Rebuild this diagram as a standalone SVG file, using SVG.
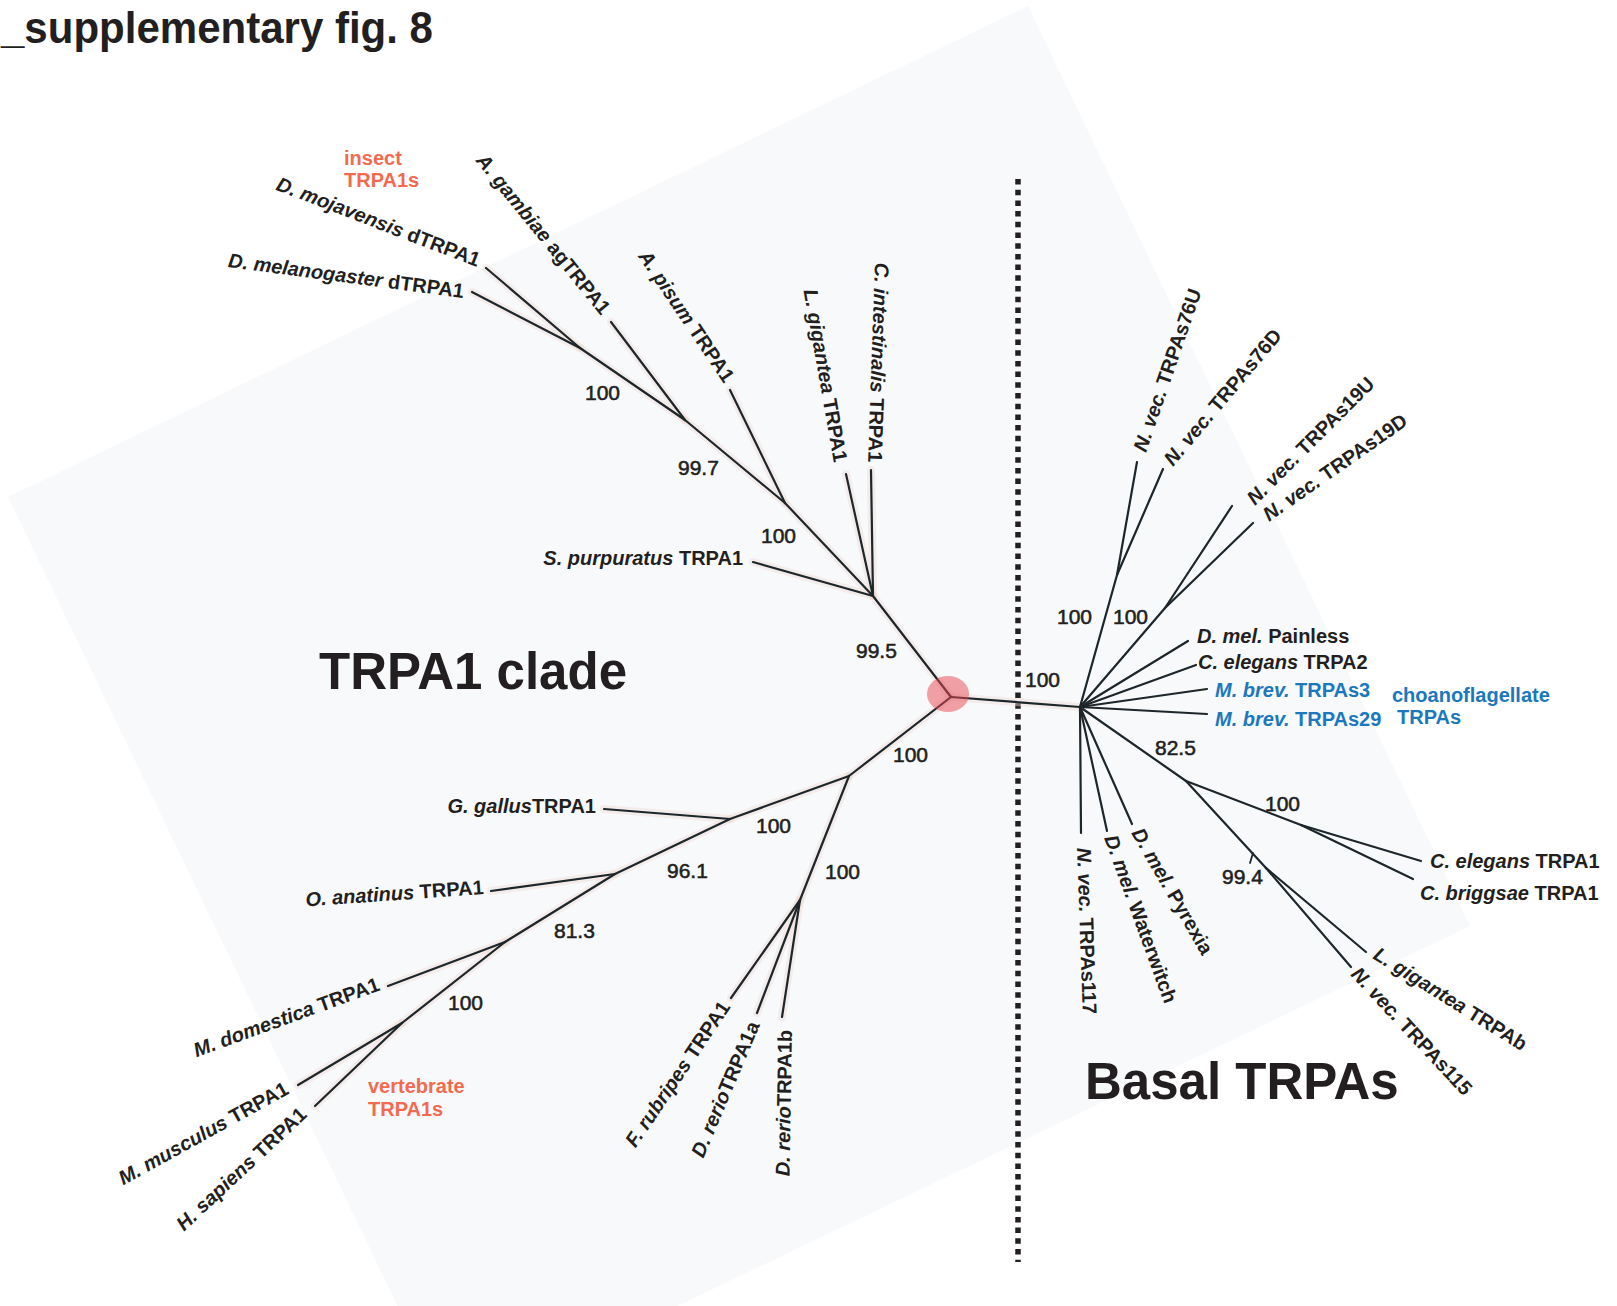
<svg xmlns="http://www.w3.org/2000/svg" width="1617" height="1306" viewBox="0 0 1617 1306">
<defs>
<style>
text{font-family:"Liberation Sans",Arial,Helvetica,sans-serif;fill:#231f20}
.lb{font-size:20px;font-weight:bold}
.num{font-size:21px;font-weight:normal;stroke:#231f20;stroke-width:0.55}
.it{font-style:italic}
.blue{fill:#1b78bd}
.sal{fill:#f26b50;font-size:20px;font-weight:bold}
.big{font-size:51px;font-weight:bold}
.e{text-anchor:end}
.br line{stroke:#1c262b;stroke-width:2.2;stroke-linecap:round}
.halo line{stroke:#f1ddd6;stroke-width:8;stroke-linecap:round;opacity:0.45}
</style>
</defs>
<rect x="0" y="0" width="1617" height="1306" fill="#ffffff"/>
<polygon points="8,497 1028,6 1470,926 450,1415" fill="#f8f9fb"/>
<text x="1" y="43" font-size="45" font-weight="bold" textLength="432" lengthAdjust="spacingAndGlyphs">_supplementary fig. 8</text>
<line x1="1018" y1="179" x2="1018" y2="1262" stroke="#231f20" stroke-width="5.5" stroke-dasharray="5.5 5.2"/>

<g id="connectors">
<g class="halo">
<line x1="951" y1="697" x2="873" y2="596"/><line x1="951" y1="697" x2="849" y2="776"/><line x1="951" y1="697" x2="1080" y2="707"/>
<line x1="873" y1="596" x2="753" y2="562"/><line x1="873" y1="596" x2="846" y2="474"/><line x1="873" y1="596" x2="871" y2="470"/><line x1="873" y1="596" x2="785" y2="503"/>
<line x1="785" y1="503" x2="730" y2="390"/><line x1="785" y1="503" x2="685" y2="420"/><line x1="685" y1="420" x2="611" y2="322"/><line x1="685" y1="420" x2="580" y2="348"/>
<line x1="580" y1="348" x2="486" y2="268"/><line x1="580" y1="348" x2="472" y2="292"/>
<line x1="849" y1="776" x2="800" y2="900"/><line x1="849" y1="776" x2="730" y2="819"/>
<line x1="800" y1="900" x2="731" y2="998"/><line x1="800" y1="900" x2="757" y2="1013"/><line x1="800" y1="900" x2="782" y2="1017"/>
<line x1="730" y1="819" x2="604" y2="809"/><line x1="730" y1="819" x2="615" y2="874"/><line x1="615" y1="874" x2="491" y2="891"/><line x1="615" y1="874" x2="505" y2="942"/>
<line x1="505" y1="942" x2="388" y2="986"/><line x1="505" y1="942" x2="402" y2="1023"/><line x1="402" y1="1023" x2="298" y2="1085"/><line x1="402" y1="1023" x2="315" y2="1106"/>
</g>
<g class="br">
<line x1="951" y1="697" x2="873" y2="596"/><line x1="951" y1="697" x2="849" y2="776"/><line x1="951" y1="697" x2="1080" y2="707"/>
<line x1="873" y1="596" x2="753" y2="562"/><line x1="873" y1="596" x2="846" y2="474"/><line x1="873" y1="596" x2="871" y2="470"/><line x1="873" y1="596" x2="785" y2="503"/>
<line x1="785" y1="503" x2="730" y2="390"/><line x1="785" y1="503" x2="685" y2="420"/><line x1="685" y1="420" x2="611" y2="322"/><line x1="685" y1="420" x2="580" y2="348"/>
<line x1="580" y1="348" x2="486" y2="268"/><line x1="580" y1="348" x2="472" y2="292"/>
<line x1="849" y1="776" x2="800" y2="900"/><line x1="849" y1="776" x2="730" y2="819"/>
<line x1="800" y1="900" x2="731" y2="998"/><line x1="800" y1="900" x2="757" y2="1013"/><line x1="800" y1="900" x2="782" y2="1017"/>
<line x1="730" y1="819" x2="604" y2="809"/><line x1="730" y1="819" x2="615" y2="874"/><line x1="615" y1="874" x2="491" y2="891"/><line x1="615" y1="874" x2="505" y2="942"/>
<line x1="505" y1="942" x2="388" y2="986"/><line x1="505" y1="942" x2="402" y2="1023"/><line x1="402" y1="1023" x2="298" y2="1085"/><line x1="402" y1="1023" x2="315" y2="1106"/>
<line x1="1080" y1="707" x2="1117" y2="575"/><line x1="1117" y1="575" x2="1137" y2="462"/><line x1="1117" y1="575" x2="1163" y2="469"/>
<line x1="1080" y1="707" x2="1165" y2="608"/><line x1="1165" y1="608" x2="1232" y2="506"/><line x1="1165" y1="608" x2="1253" y2="523"/>
<line x1="1080" y1="707" x2="1188" y2="641"/><line x1="1080" y1="707" x2="1196" y2="665"/><line x1="1080" y1="707" x2="1207" y2="689"/><line x1="1080" y1="707" x2="1207" y2="714"/>
<line x1="1080" y1="707" x2="1081" y2="833"/><line x1="1080" y1="707" x2="1107" y2="831"/><line x1="1080" y1="707" x2="1132" y2="824"/>
<line x1="1080" y1="707" x2="1186" y2="781"/><line x1="1186" y1="781" x2="1301" y2="825"/><line x1="1301" y1="825" x2="1421" y2="861"/><line x1="1301" y1="825" x2="1413" y2="879"/>
<line x1="1186" y1="781" x2="1266" y2="868"/><line x1="1266" y1="868" x2="1366" y2="952"/><line x1="1266" y1="868" x2="1351" y2="967"/>
<line x1="1253" y1="853" x2="1250" y2="863" style="stroke-width:1.8"/>
</g>
</g>

<g id="root"><ellipse cx="948" cy="694" rx="21" ry="18" fill="#e84650" opacity="0.5"/></g>

<g id="group-labels">
<text class="sal" x="344" y="165">insect</text>
<text class="sal" x="344" y="187">TRPA1s</text>
<text class="sal" x="368" y="1093">vertebrate</text>
<text class="sal" x="368" y="1116">TRPA1s</text>
<text class="lb blue" x="1392" y="702">choanoflagellate</text>
<text class="lb blue" x="1397" y="724">TRPAs</text>
<text class="big" x="319" y="689">TRPA1 clade</text>
<text class="big" x="1085" y="1099">Basal TRPAs</text>
</g>

<g id="bootstrap">
<text class="num" x="585" y="400">100</text>
<text class="num" x="678" y="475">99.7</text>
<text class="num" x="761" y="543">100</text>
<text class="num" x="856" y="658">99.5</text>
<text class="num" x="1025" y="687">100</text>
<text class="num" x="893" y="762">100</text>
<text class="num" x="756" y="833">100</text>
<text class="num" x="667" y="878">96.1</text>
<text class="num" x="825" y="879">100</text>
<text class="num" x="554" y="938">81.3</text>
<text class="num" x="448" y="1010">100</text>
<text class="num" x="1057" y="624">100</text>
<text class="num" x="1113" y="624">100</text>
<text class="num" x="1155" y="755">82.5</text>
<text class="num" x="1265" y="811">100</text>
<text class="num" x="1222" y="884">99.4</text>
</g>

<g id="leaf-Dmoj"><text class="lb e" transform="translate(477,267) rotate(21)"><tspan class="it">D. mojavensis</tspan> dTRPA1</text></g>
<g id="leaf-Dmel"><text class="lb e" transform="translate(463,298) rotate(7.5)"><tspan class="it">D. melanogaster</tspan> dTRPA1</text></g>
<g id="leaf-Agam"><text class="lb e" transform="translate(601,316) rotate(51)"><tspan class="it">A. gambiae</tspan> agTRPA1</text></g>
<g id="leaf-Apis"><text class="lb e" transform="translate(724,384) rotate(56)"><tspan class="it">A. pisum</tspan> TRPA1</text></g>
<g id="leaf-Lgig"><text class="lb e" transform="translate(834,463) rotate(80)"><tspan class="it">L. gigantea</tspan> TRPA1</text></g>
<g id="leaf-Cint"><text class="lb e" transform="translate(868,462) rotate(92)"><tspan class="it">C. intestinalis</tspan> TRPA1</text></g>
<g id="leaf-Spur"><text class="lb e" x="743" y="565"><tspan class="it">S. purpuratus</tspan> TRPA1</text></g>
<g id="leaf-Ggal"><text class="lb e" x="596" y="813"><tspan class="it">G. gallus</tspan>TRPA1</text></g>
<g id="leaf-Oana"><text class="lb e" transform="translate(484,894) rotate(-4)"><tspan class="it">O. anatinus</tspan> TRPA1</text></g>
<g id="leaf-Mdom"><text class="lb e" transform="translate(381,990) rotate(-20)"><tspan class="it">M. domestica</tspan> TRPA1</text></g>
<g id="leaf-Mmus"><text class="lb e" transform="translate(290,1093) rotate(-29)"><tspan class="it">M. musculus</tspan> TRPA1</text></g>
<g id="leaf-Hsap"><text class="lb e" transform="translate(308,1116) rotate(-43)"><tspan class="it">H. sapiens</tspan> TRPA1</text></g>
<g id="leaf-Frub"><text class="lb e" transform="translate(731,1007) rotate(-56)"><tspan class="it">F. rubripes</tspan> TRPA1</text></g>
<g id="leaf-Drer1a"><text class="lb e" transform="translate(760,1025) rotate(-67)"><tspan class="it">D. rerio</tspan>TRPA1a</text></g>
<g id="leaf-Drer1b"><text class="lb e" transform="translate(792,1030) rotate(-89)"><tspan class="it">D. rerio</tspan>TRPA1b</text></g>

<g id="leaf-Nv76U"><text class="lb" transform="translate(1146,453) rotate(-71)"><tspan class="it">N. vec.</tspan> TRPAs76U</text></g>
<g id="leaf-Nv76D"><text class="lb" transform="translate(1173,467) rotate(-50)"><tspan class="it">N. vec.</tspan> TRPAs76D</text></g>
<g id="leaf-Nv19U"><text class="lb" transform="translate(1255,506) rotate(-45)"><tspan class="it">N. vec.</tspan> TRPAs19U</text></g>
<g id="leaf-Nv19D"><text class="lb" transform="translate(1269,522) rotate(-35)"><tspan class="it">N. vec.</tspan> TRPAs19D</text></g>
<g id="leaf-Painless"><text class="lb" x="1197" y="643"><tspan class="it">D. mel.</tspan> Painless</text></g>
<g id="leaf-CeA2"><text class="lb" x="1198" y="669"><tspan class="it">C. elegans</tspan> TRPA2</text></g>
<g id="leaf-Mb3"><text class="lb blue" x="1215" y="697"><tspan class="it">M. brev.</tspan> TRPAs3</text></g>
<g id="leaf-Mb29"><text class="lb blue" x="1215" y="726"><tspan class="it">M. brev.</tspan> TRPAs29</text></g>
<g id="leaf-CeA1"><text class="lb" x="1430" y="868"><tspan class="it">C. elegans</tspan> TRPA1</text></g>
<g id="leaf-Cbr"><text class="lb" x="1420" y="900"><tspan class="it">C. briggsae</tspan> TRPA1</text></g>
<g id="leaf-Nv117"><text class="lb" transform="translate(1077,848) rotate(88)"><tspan class="it">N. vec.</tspan> TRPAs117</text></g>
<g id="leaf-Waterwitch"><text class="lb" transform="translate(1104,838) rotate(70)"><tspan class="it">D. mel.</tspan> Waterwitch</text></g>
<g id="leaf-Pyrexia"><text class="lb" transform="translate(1131,833) rotate(60)"><tspan class="it">D. mel.</tspan> Pyrexia</text></g>
<g id="leaf-LgigB"><text class="lb" transform="translate(1372,958) rotate(32)"><tspan class="it">L. gigantea</tspan> TRPAb</text></g>
<g id="leaf-Nv115"><text class="lb" transform="translate(1350,975) rotate(47)"><tspan class="it">N. vec.</tspan> TRPAs115</text></g>
</svg>
